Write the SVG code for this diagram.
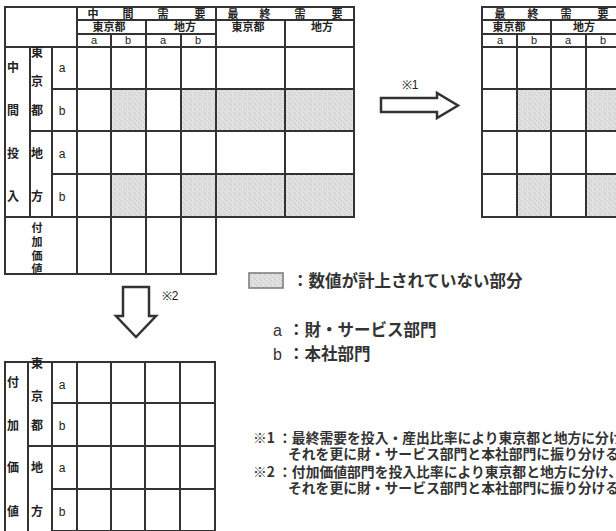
<svg xmlns="http://www.w3.org/2000/svg" width="616" height="531" viewBox="0 0 616 531">
<style>
.ln{stroke:#333;stroke-width:2;fill:none}
.sh{fill:url(#noise);stroke:none}
.t{font-family:"Noto Sans CJK JP","Noto Sans",sans-serif;font-size:12px;fill:#222;font-weight:bold;text-anchor:middle}
.h{font-size:11px}
.ab{font-family:"Liberation Sans",Arial,sans-serif;font-size:12px;fill:#222;text-anchor:middle}
.lg{font-family:"Noto Sans CJK JP","Noto Sans",sans-serif;font-size:16.5px;fill:#333;font-weight:bold}
.lga{font-family:"Liberation Sans",Arial,sans-serif;font-size:16px;fill:#333}
.nt{font-family:"Noto Sans CJK JP","Noto Sans",sans-serif;font-size:13.8px;fill:#333;font-weight:bold}
.ar{fill:#fff;stroke:#333;stroke-width:2.5;stroke-linejoin:miter}
</style>
<defs>
  <pattern id="noise" width="5" height="5" patternUnits="userSpaceOnUse">
    <rect width="5" height="5" fill="#e0e0e0"/>
    <rect x="1" y="0" width="1" height="1" fill="#c4c4c4"/>
    <rect x="3" y="2" width="1" height="1" fill="#c8c8c8"/>
    <rect x="0" y="3" width="1" height="1" fill="#cccccc"/>
    <rect x="4" y="4" width="1" height="1" fill="#c6c6c6"/>
    <rect x="2" y="4" width="1" height="1" fill="#ececec"/>
  </pattern>
</defs>
<rect width="616" height="531" fill="#fff"/>

<g id="main-table">
  <rect class="sh" x="111" y="89" width="35" height="42"/>
  <rect class="sh" x="181" y="89" width="35" height="42"/>
  <rect class="sh" x="216" y="89" width="138" height="42"/>
  <rect class="sh" x="111" y="174" width="35" height="43"/>
  <rect class="sh" x="181" y="174" width="35" height="43"/>
  <rect class="sh" x="216" y="174" width="138" height="43"/>
  <path class="ln" d="M5,7 H354 V217 H216 V274 H5 Z"/>
  <path class="ln" d="M77,20 H354 M77,34 H216 M5,47 H354 M52,89 H354 M30,131 H354 M52,174 H354 M5,217 H354"/>
  <path class="ln" d="M30,47 V217 M52,47 V217 M77,7 V274 M111,34 V274 M146,20 V274 M181,34 V274 M216,7 V274 M285,20 V217"/>
  <text class="t h" x="93" y="18">中</text><text class="t h" x="128" y="18">間</text><text class="t h" x="163" y="18">需</text><text class="t h" x="200" y="18">要</text>
  <text class="t h" x="109" y="31">東京都</text><text class="t h" x="185" y="31">地方</text>
  <text class="ab" x="94" y="44" style="font-size:11px">a</text><text class="ab" x="128" y="44" style="font-size:11px">b</text><text class="ab" x="163" y="44" style="font-size:11px">a</text><text class="ab" x="198" y="44" style="font-size:11px">b</text>
  <text class="t h" x="233" y="18">最</text><text class="t h" x="265" y="18">終</text><text class="t h" x="300" y="18">需</text><text class="t h" x="337" y="18">要</text>
  <text class="t h" x="248" y="31">東京都</text><text class="t h" x="322" y="31">地方</text>
  <text class="t" x="13" y="72">中</text><text class="t" x="13" y="115">間</text><text class="t" x="13" y="158">投</text><text class="t" x="13" y="201">入</text>
  <text class="t" x="37" y="57">東</text><text class="t" x="37" y="86">京</text><text class="t" x="37" y="115">都</text><text class="t" x="37" y="158">地</text><text class="t" x="37" y="201">方</text>
  <text class="ab" x="62" y="72">a</text><text class="ab" x="62" y="115">b</text><text class="ab" x="62" y="158">a</text><text class="ab" x="62" y="201">b</text>
  <text class="t h" x="37" y="232">付</text><text class="t h" x="37" y="246">加</text><text class="t h" x="37" y="260">価</text><text class="t h" x="37" y="273">値</text>
</g>

<g id="right-table">
  <rect class="sh" x="517" y="89" width="34" height="42"/>
  <rect class="sh" x="586" y="89" width="35" height="42"/>
  <rect class="sh" x="517" y="174" width="34" height="43"/>
  <rect class="sh" x="586" y="174" width="35" height="43"/>
  <path class="ln" d="M482,7 H621 V217 H482 Z"/>
  <path class="ln" d="M482,20 H621 M482,34 H621 M482,47 H621 M482,89 H621 M482,131 H621 M482,174 H621"/>
  <path class="ln" d="M517,34 V217 M551,20 V217 M586,34 V217"/>
  <text class="t h" x="500" y="18">最</text><text class="t h" x="533" y="18">終</text><text class="t h" x="566" y="18">需</text><text class="t h" x="603" y="18">要</text>
  <text class="t h" x="509" y="31">東京都</text><text class="t h" x="584" y="31">地方</text>
  <text class="ab" x="500" y="44" style="font-size:11px">a</text><text class="ab" x="534" y="44" style="font-size:11px">b</text><text class="ab" x="568" y="44" style="font-size:11px">a</text><text class="ab" x="603" y="44" style="font-size:11px">b</text>
</g>

<g id="bottom-table">
  <path class="ln" d="M5,362 H215 V573 H5 Z"/>
  <path class="ln" d="M52,403 H215 M28,446 H215 M52,489 H215 M52,531 H215"/>
  <path class="ln" d="M28,362 V573 M52,362 V573 M77,362 V573 M111,362 V573 M145,362 V573 M180,362 V573"/>
  <text class="t" x="13" y="387">付</text><text class="t" x="13" y="430">加</text><text class="t" x="13" y="472">価</text><text class="t" x="13" y="516">値</text>
  <text class="t" x="37" y="368">東</text><text class="t" x="37" y="401">京</text><text class="t" x="37" y="430">都</text><text class="t" x="37" y="472">地</text><text class="t" x="37" y="516">方</text>
  <text class="ab" x="62" y="389">a</text><text class="ab" x="62" y="430">b</text><text class="ab" x="62" y="472">a</text><text class="ab" x="62" y="516">b</text>
</g>

<g id="connectors">
  <path class="ar" d="M381,98 H437 V93 L458,105.5 L437,118 V112 H381 Z"/>
  <text class="ab" x="410" y="89">※1</text>
  <path class="ar" d="M123,287 H149 V316 H156 L136,337 L116,316 H123 Z"/>
  <text class="ab" x="170" y="300">※2</text>
</g>

<g id="legend">
  <rect x="249" y="273" width="34" height="15" fill="url(#noise)" stroke="#777" stroke-width="1.5"/>
  <text class="lg" x="292" y="287">：数値が計上されていない部分</text>
  <text class="lga" x="273" y="336">a</text><text class="lg" x="288" y="336">：財・サービス部門</text>
  <text class="lga" x="273" y="360">b</text><text class="lg" x="288" y="360">：本社部門</text>
</g>

<g id="notes">
  <text class="nt" x="253" y="443">※1 ：最終需要を投入・産出比率により東京都と地方に分け、</text>
  <text class="nt" x="288" y="459">それを更に財・サービス部門と本社部門に振り分ける</text>
  <text class="nt" x="253" y="477">※2 ：付加価値部門を投入比率により東京都と地方に分け、</text>
  <text class="nt" x="288" y="493">それを更に財・サービス部門と本社部門に振り分ける</text>
</g>
</svg>
